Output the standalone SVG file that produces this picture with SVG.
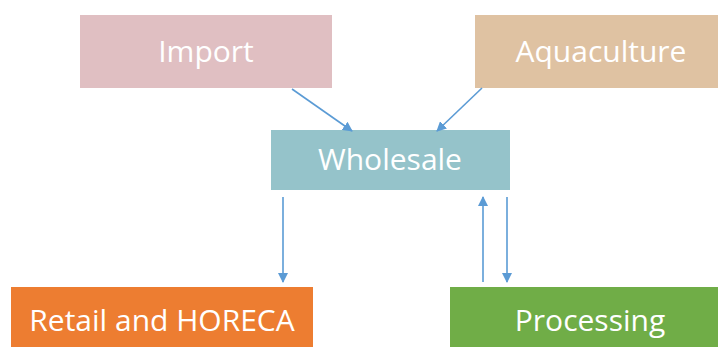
<svg xmlns="http://www.w3.org/2000/svg" width="718" height="347" viewBox="0 0 718 347">
<style>
.lbl{font-family:"Open Sans","Liberation Sans",sans-serif;font-size:30px;fill:#ffffff;text-anchor:middle}
.c{stroke:#5B9BD5;stroke-width:1.6;fill:none;marker-end:url(#ah)}
</style>
<defs>
<marker id="ah" viewBox="0 0 10 10" refX="9" refY="5" markerWidth="10" markerHeight="10" markerUnits="userSpaceOnUse" orient="auto">
<path d="M0,0 L10,5 L0,10 z" fill="#5B9BD5"/>
</marker>
</defs>
<rect width="718" height="347" fill="#ffffff"/>
<g id="import"><rect x="80" y="15" width="252" height="73" fill="#E0BFC2"/><text class="lbl" x="206" y="62">Import</text></g>
<g id="aquaculture"><rect x="475" y="15" width="243" height="73" fill="#DFC2A2"/><text class="lbl" x="601" y="62">Aquaculture</text></g>
<g id="wholesale"><rect x="271" y="130" width="239" height="60" fill="#95C3CA"/><text class="lbl" x="390" y="170">Wholesale</text></g>
<g id="retail"><rect x="11" y="287" width="302" height="60" fill="#ED7D31"/><text class="lbl" x="162" y="331">Retail and HORECA</text></g>
<g id="processing"><rect x="450" y="287" width="268" height="60" fill="#70AD47"/><text class="lbl" x="590" y="331">Processing</text></g>
<g id="connectors">
<line class="c" x1="292" y1="89" x2="352" y2="131"/>
<line class="c" x1="482" y1="88" x2="437" y2="131"/>
<line class="c" x1="283" y1="197" x2="283" y2="282"/>
<line class="c" x1="483" y1="282" x2="483" y2="197"/>
<line class="c" x1="507" y1="197" x2="507" y2="282"/>
</g>
</svg>
